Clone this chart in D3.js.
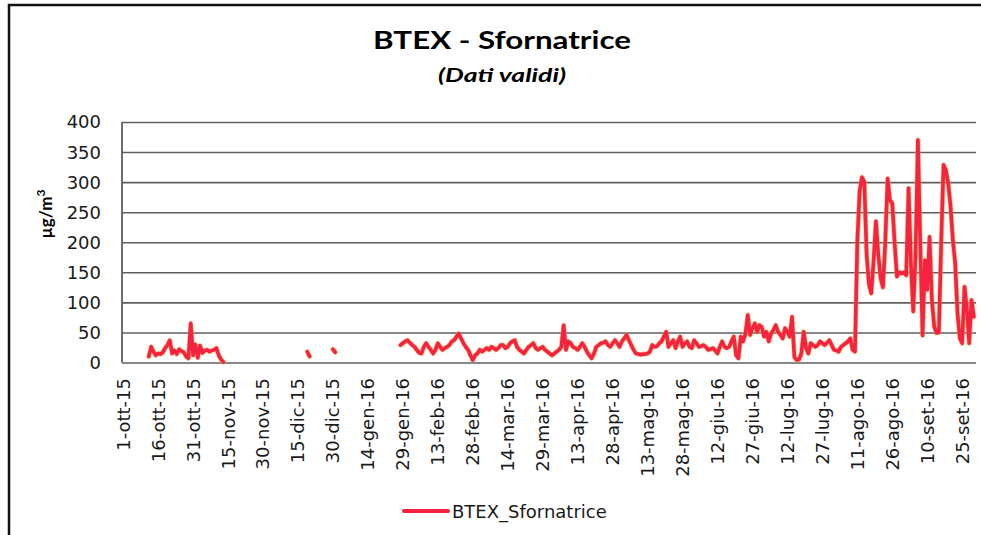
<!DOCTYPE html>
<html>
<head>
  <meta charset="utf-8">
  <title>BTEX - Sfornatrice</title>
  <script src="https://d3js.org/d3.v7.min.js"></script>
<style>
body { margin: 0; background: #fff; }
svg { display: block; }
.grid line { stroke: #5f5f5f; stroke-width: 1.6px; }
.grid path { display: none; }
.tick-lbl { font-family: "DejaVu Sans", sans-serif; font-size: 18px; fill: #1a1a1a; }
</style>
</head>
<body>
<svg width="981" height="535"></svg>
<script>
// valori giornalieri BTEX (µg/m3), null = dato non valido
var ott15 = [null,null,null,null,null,null,null,null,null,null,null,
  10,26,18,12,15,14,17,24,29,37,15,20,14,22,19,17,10,7,65,12];
var nov15 = [30,8,28,16,20,21,18,20,21,24,12,5,1,
  null,null,null,null,null,null,null,null,null,null,null,null,null,null,null,null,null];
var dic15 = [null,null,null,null,null,null,null,null,null,null,null,null,null,null,null,null,null,null,
  18,10,null,null,null,null,null,null,null,null,null,22,17];
var gen16 = [null,null,null,null,null,null,null,null,null,null,null,null,null,null,null,null,null,null,
  null,null,null,null,null,null,null,null,null,29,32,35,37];
var feb16 = [33,29,26,21,16,15,26,32,26,21,15,21,32,26,21,24,26,29,35,37,43,48,40,32,26,21,12,4,12];
var mar16 = [15,21,18,21,24,21,26,24,21,24,29,29,24,26,32,35,37,26,21,18,15,21,26,29,32,24,21,24,26,21,18];
var apr16 = [15,12,15,18,21,26,62,21,35,32,26,24,21,26,32,26,18,12,7,15,26,29,32,33,35,29,26,32,37,32];
var mag16 = [26,35,40,46,37,29,21,15,14,13,14,14,15,18,29,26,27,32,35,43,51,26,32,37,24,35,43,26,32,35,26];
var giu16 = [24,37,32,26,27,29,26,21,22,24,20,15,26,35,26,24,26,35,43,12,7,43,35,48,79,46,57,65,51,62];
var lug16 = [59,43,51,35,48,54,62,51,46,40,57,51,43,76,9,4,5,15,51,24,15,32,29,26,29,35,32,29,33,37,29];
var ago16 = [21,20,18,26,29,32,35,40,21,18,200,285,308,300,180,130,115,170,235,180,140,125,200,306,270,265,200,143,150,148,150];
var set16 = [145,290,165,85,180,370,200,45,170,121,209,104,60,49,50,200,329,320,298,260,204,165,82,40,32,126,90,32,104,76];

var mesi = ["gen","feb","mar","apr","mag","giu","lug","ago","set","ott","nov","dic"];
var yTicks = [0, 50, 100, 150, 200, 250, 300, 350, 400];
var serie = "BTEX_Sfornatrice";

var values = [].concat(ott15, nov15, dic15, gen16, feb16, mar16, apr16, mag16, giu16, lug16, ago16, set16);
var start = new Date(Date.UTC(2015, 9, 1));
var end = new Date(Date.UTC(2016, 9, 1));
var mid = function(d) { return new Date(d.getTime() + 12 * 3600 * 1000); };
var data = values.map(function(v, i) {
  return { date: mid(d3.utcDay.offset(start, i)), value: v };
});
var labelDates = d3.range(0, values.length, 15).map(function(i) { return d3.utcDay.offset(start, i); });
var fmt = function(d) {
  return d.getUTCDate() + "-" + mesi[d.getUTCMonth()] + "-" + String(d.getUTCFullYear()).slice(2);
};

var svg = d3.select("svg");
var pLeft = 122, pRight = 975, pTop = 122, pBottom = 362.5;

var x = d3.scaleUtc().domain([start, end]).range([pLeft, pRight]);
var y = d3.scaleLinear().domain([0, 400]).range([pBottom, pTop]);

// cornice esterna
svg.append("rect")
  .attr("x", 9).attr("y", 5).attr("width", 1000).attr("height", 600)
  .attr("fill", "none").attr("stroke", "#111").attr("stroke-width", 2.5);

// griglia
svg.append("g")
  .attr("class", "grid")
  .attr("transform", "translate(" + pLeft + ",0)")
  .call(d3.axisLeft(y).tickValues(yTicks).tickSize(-(pRight - pLeft + 1)).tickFormat(""));

svg.append("line")
  .attr("x1", pLeft).attr("x2", pLeft).attr("y1", pTop).attr("y2", pBottom)
  .attr("stroke", "#5f5f5f").attr("stroke-width", 1.8);

// etichette asse y
svg.append("g").selectAll("text")
  .data(yTicks)
  .enter().append("text")
    .attr("class", "tick-lbl")
    .attr("x", 101)
    .attr("y", function(d) { return y(d); })
    .attr("dy", "0.36em")
    .attr("text-anchor", "end")
    .text(function(d) { return d; });

// etichette asse x
svg.append("g").selectAll("text")
  .data(labelDates)
  .enter().append("text")
    .attr("class", "tick-lbl")
    .attr("transform", function(d) { return "translate(" + x(mid(d)) + ",378) rotate(-90)"; })
    .attr("dy", "0.36em")
    .attr("text-anchor", "end")
    .text(fmt);

// titolo
svg.append("text")
  .attr("x", 502).attr("y", 49)
  .attr("text-anchor", "middle")
  .attr("font-family", "Lato, 'Open Sans', sans-serif")
  .attr("font-weight", "bold")
  .attr("font-size", 25)
  .attr("textLength", 258).attr("lengthAdjust", "spacingAndGlyphs")
  .text("BTEX - Sfornatrice");

svg.append("text")
  .attr("x", 502).attr("y", 82)
  .attr("text-anchor", "middle")
  .attr("font-family", "Lato, 'Open Sans', sans-serif")
  .attr("font-weight", "bold")
  .attr("font-style", "italic")
  .attr("font-size", 19)
  .attr("textLength", 128).attr("lengthAdjust", "spacingAndGlyphs")
  .text("(Dati validi)");

// titolo asse y
var yl = svg.append("text")
  .attr("transform", "translate(52,214) rotate(-90)")
  .attr("text-anchor", "middle")
  .attr("font-family", "Lato, 'Open Sans', sans-serif")
  .attr("font-weight", "bold")
  .attr("font-size", 17);
yl.append("tspan").text("µg/m");
yl.append("tspan").attr("dy", -7).attr("font-size", 12).text("3");

// serie
var line = d3.line()
  .defined(function(d) { return d.value != null; })
  .x(function(d) { return x(d.date); })
  .y(function(d) { return y(d.value); });

svg.append("path")
  .datum(data)
  .attr("fill", "none")
  .attr("stroke", "#f6a23a")
  .attr("stroke-width", 5)
  .attr("stroke-opacity", 0.6)
  .attr("stroke-linejoin", "round")
  .attr("stroke-linecap", "round")
  .attr("d", line);

svg.append("path")
  .datum(data)
  .attr("fill", "none")
  .attr("stroke", "#f5233f")
  .attr("stroke-width", 3.6)
  .attr("stroke-linejoin", "round")
  .attr("stroke-linecap", "round")
  .attr("d", line);

// legenda
var leg = svg.append("g");
leg.append("line")
  .attr("x1", 404).attr("x2", 448).attr("y1", 511).attr("y2", 511)
  .attr("stroke", "#f5233f").attr("stroke-width", 4).attr("stroke-linecap", "round");
leg.append("text")
  .attr("class", "tick-lbl")
  .attr("x", 452).attr("y", 518)
  .attr("font-size", 17)
  .text(serie);
</script>
</body>
</html>
